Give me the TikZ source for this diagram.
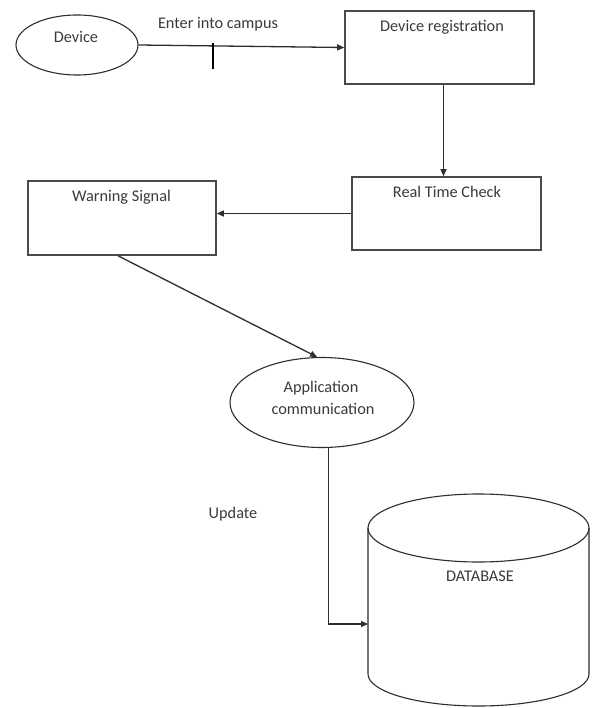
\documentclass[tikz,border=0pt]{standalone}
\usepackage{fontspec}
\setmainfont{Carlito}
\usetikzlibrary{arrows.meta,shapes.geometric}
\definecolor{boxc}{HTML}{4A4A4A}
\definecolor{linec}{HTML}{2E2E2E}
\definecolor{txtc}{HTML}{3A3A3A}
\begin{document}
\begin{tikzpicture}[x=1pt,y=-1pt,
  txt/.style={font=\fontsize{16.3}{19}\selectfont, text=txtc, inner sep=0pt, anchor=base},
  boxn/.style={draw=boxc, line width=1.6pt, rectangle, inner sep=0pt},
  ellip/.style={draw=linec, line width=1.1pt, ellipse, inner sep=0pt},
  conn/.style={draw=linec, line width=1.3pt, -{Triangle[length=7pt,width=6pt]}}]
\useasboundingbox (0,0) rectangle (592,708);
\fill[white] (0,0) rectangle (592,708);

% shapes
\node[ellip, minimum width=122pt, minimum height=60pt] (dev) at (77,45) {};
\node[boxn, minimum width=189pt, minimum height=73pt] (reg) at (439.5,47.5) {};
\node[boxn, minimum width=189pt, minimum height=73pt] (rtc) at (446.5,213.5) {};
\node[boxn, minimum width=188pt, minimum height=74pt] (warn) at (122,218) {};
\node[ellip, minimum width=184pt, minimum height=90pt] (app) at (322,402.5) {};

% database cylinder
\draw[draw=linec, line width=1.1pt] (478.5,528) ellipse [x radius=110.5, y radius=34];
\draw[draw=linec, line width=1.1pt] (368,528) -- (368,674) arc[start angle=180, end angle=0, x radius=110.5, y radius=32] -- (589,528);
\coordinate (dbw) at (368,624);

% texts
\node[txt] (devt) at (76,43) {Device};
\node[txt] (entt) at (218,29) {Enter into campus};
\node[txt] (regt) at (442,32) {Device registration};
\node[txt] (rtct) at (447,198) {Real Time Check};
\node[txt] (warnt) at (121.5,202) {Warning Signal};
\node[txt] (appt1) at (321,392) {Application};
\node[txt] (appt2) at (323,414) {communication};
\node[txt] (updt) at (233,518) {Update};
\node[txt] (dbt) at (480,581) {DATABASE};

% connectors
\draw[conn] (dev.east) -- (reg.west);
\coordinate (tk) at (213,43);
\draw[draw=black, line width=2pt] (tk) -- ++(0,26);
\draw[conn] ([xshift=4pt]reg.south) -- ([xshift=-3pt]rtc.north);
\draw[conn] (rtc.west) -- (rtc.west -| warn.east);
\draw[conn] ([xshift=-4pt]warn.south) -- ([xshift=-5pt]app.north);
\coordinate (bend) at (328.5,624);
\draw[conn] (app.south -| bend) -- (bend) -- (dbw);
\end{tikzpicture}
\end{document}
